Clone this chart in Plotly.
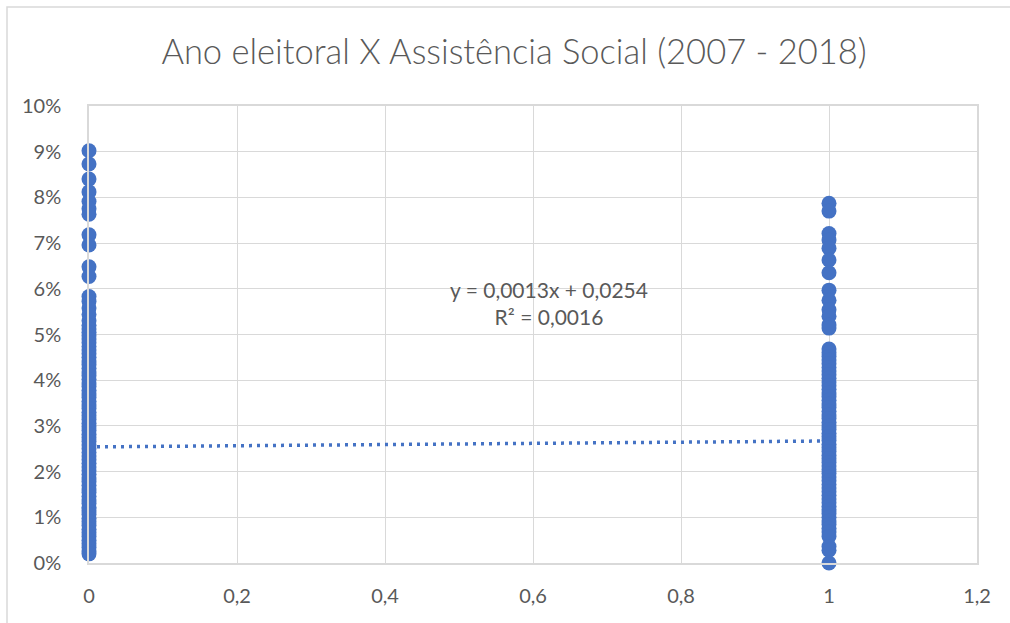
import plotly.graph_objects as go

# Share of spending on social assistance (%), by electoral-year flag
ano_nao_eleitoral = [
    9.02, 8.73, 8.40, 8.12, 7.91, 7.75, 7.63, 7.18, 6.96, 6.48, 6.27,
    5.83, 5.72, 5.58, 5.44, 5.30, 5.20, 5.12, 5.05, 4.97, 4.90, 4.82,
    4.74, 4.66, 4.58, 4.50, 4.42, 4.34, 4.26, 4.18, 4.10, 4.02, 3.94,
    3.86, 3.78, 3.70, 3.62, 3.54, 3.46, 3.38, 3.30, 3.22, 3.14, 3.06,
    2.98, 2.90, 2.82, 2.74, 2.66, 2.58, 2.50, 2.42, 2.34, 2.26, 2.18,
    2.10, 2.02, 1.94, 1.86, 1.78, 1.70, 1.62, 1.54, 1.46, 1.38, 1.30,
    1.22, 1.14, 1.06, 0.98, 0.90, 0.82, 0.74, 0.66, 0.58, 0.50, 0.42,
    0.34, 0.26, 0.20,
]
ano_eleitoral = [
    7.87, 7.70, 7.21, 7.07, 6.89, 6.63, 6.35, 5.97, 5.75, 5.54, 5.40,
    5.21, 5.14, 4.68, 4.60, 4.52, 4.44, 4.36, 4.28, 4.20, 4.12, 4.04,
    3.96, 3.88, 3.80, 3.72, 3.64, 3.56, 3.48, 3.40, 3.32, 3.24, 3.16,
    3.08, 3.00, 2.92, 2.84, 2.76, 2.68, 2.60, 2.52, 2.44, 2.36, 2.28,
    2.20, 2.12, 2.04, 1.96, 1.88, 1.80, 1.72, 1.64, 1.56, 1.48, 1.40,
    1.32, 1.24, 1.16, 1.08, 1.00, 0.92, 0.84, 0.76, 0.68, 0.58, 0.36,
    0.28, 0.00,
]

# Linear trend as reported on the chart
inclinacao = 0.0013
intercepto = 0.0254
r2 = 0.0016

x_ticks = [0, 0.2, 0.4, 0.6, 0.8, 1.0, 1.2]
x_tick_labels = ["0", "0,2", "0,4", "0,6", "0,8", "1", "1,2"]
y_ticks = [0, 0.01, 0.02, 0.03, 0.04, 0.05, 0.06, 0.07, 0.08, 0.09, 0.10]
y_tick_labels = ["0%", "1%", "2%", "3%", "4%", "5%", "6%", "7%", "8%", "9%", "10%"]

AZUL = "#4472C4"
CINZA_TEXTO = "#595959"
CINZA_GRADE = "#D9D9D9"
FONTE = "Lato"

def fmt(v, casas):
    return f"{v:.{casas}f}".replace(".", ",")

xs = [0] * len(ano_nao_eleitoral) + [1] * len(ano_eleitoral)
ys = [v / 100 for v in ano_nao_eleitoral + ano_eleitoral]

fig = go.Figure()

trend_x = [0, 1]
trend_y = [intercepto + inclinacao * x for x in trend_x]
fig.add_trace(go.Scatter(
    x=trend_x, y=trend_y, mode="lines",
    line=dict(color=AZUL, width=3.5, dash="3px,5px"),
    hoverinfo="skip", showlegend=False,
))

fig.add_trace(go.Scatter(
    x=xs, y=ys, mode="markers",
    marker=dict(color=AZUL, size=15, line=dict(width=0)),
    cliponaxis=False, showlegend=False,
))

fig.add_annotation(
    x=0.622, y=0.0568, xref="x", yref="y",
    text=f"y = {fmt(inclinacao, 4)}x + {fmt(intercepto, 4)}<br>R² = {fmt(r2, 4)}",
    showarrow=False, align="center",
    font=dict(family=FONTE, size=21, color=CINZA_TEXTO),
)

# Outer chart frame
fig.add_shape(
    type="rect", xref="paper", yref="paper",
    x0=(7 - 89) / 888, x1=1.1, y0=-0.2, y1=1 + (106 - 7) / 457,
    line=dict(color=CINZA_GRADE, width=1.5), fillcolor="rgba(0,0,0,0)",
    layer="below",
)

fig.update_layout(
    width=1010, height=623,
    margin=dict(l=89, r=33, t=106, b=60),
    paper_bgcolor="white", plot_bgcolor="white",
    title=dict(
        text="Ano eleitoral X Assistência Social (2007 - 2018)",
        x=514 / 1010, xref="container", xanchor="center",
        y=1 - 52 / 623, yref="container", yanchor="middle",
        font=dict(family=FONTE, size=34.5, color=CINZA_TEXTO, weight=300),
    ),
    font=dict(family=FONTE, color=CINZA_TEXTO),
)

fig.update_xaxes(
    range=[0, 1.2], tickvals=x_ticks, ticktext=x_tick_labels,
    showgrid=True, gridcolor=CINZA_GRADE, gridwidth=1.3,
    showline=True, mirror=True, linecolor=CINZA_GRADE, linewidth=1.5,
    zeroline=False, ticks="", ticklabelstandoff=14,
    tickfont=dict(family=FONTE, size=20, color=CINZA_TEXTO),
)
fig.update_yaxes(
    range=[0, 0.10], tickvals=y_ticks, ticktext=y_tick_labels,
    showgrid=True, gridcolor=CINZA_GRADE, gridwidth=1.3,
    showline=True, mirror=True, linecolor=CINZA_GRADE, linewidth=1.5,
    zeroline=False, ticks="", ticklabelstandoff=22,
    tickfont=dict(family=FONTE, size=20, color=CINZA_TEXTO),
)

fig.write_html("out.html")
